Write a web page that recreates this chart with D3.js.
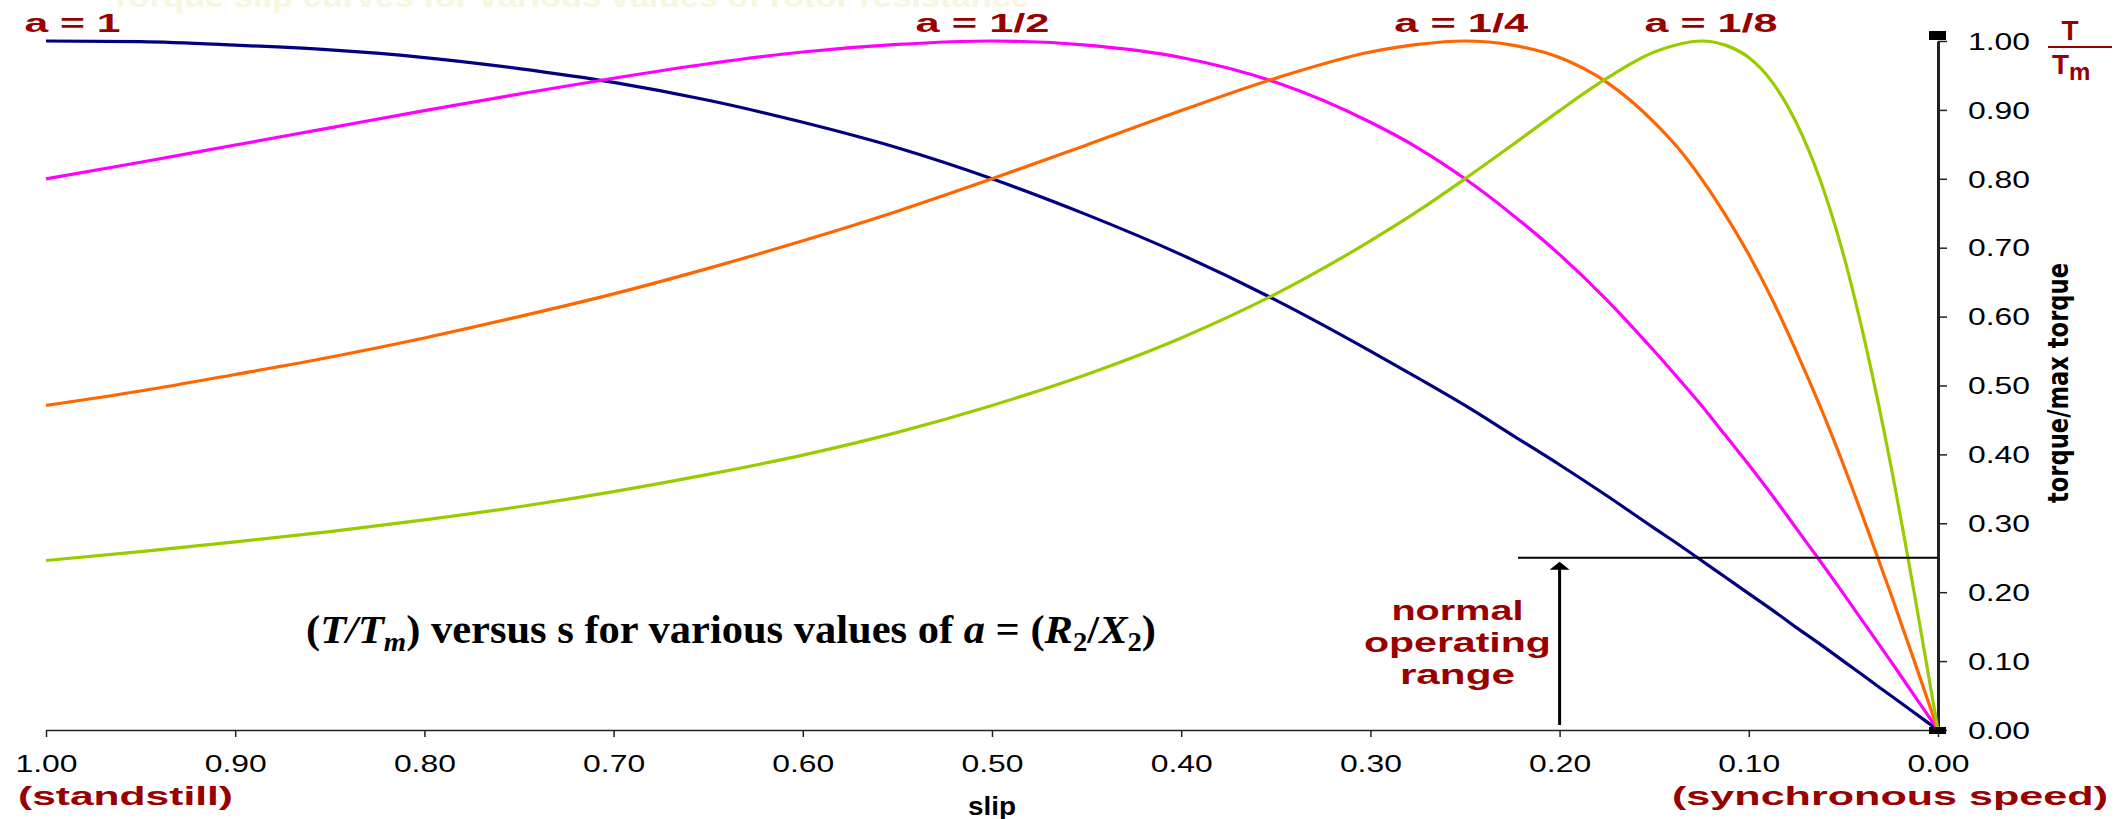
<!DOCTYPE html>
<html>
<head>
<meta charset="utf-8">
<script src="https://cdn.jsdelivr.net/npm/d3@7"></script>
<style>
  body { margin: 0; background: #fff; }
  svg { display: block; }
</style>
</head>
<body>
<svg class="chart" width="2118" height="819"></svg>
<script>
// slip values (x) and torque/max torque
var slip = [1.00, 0.95, 0.90, 0.85, 0.80, 0.75, 0.70, 0.65, 0.60, 0.55, 0.50, 0.45, 0.40, 0.35, 0.30,
    0.275, 0.25, 0.225, 0.20, 0.175, 0.15,
    0.1375, 0.125, 0.1125, 0.10, 0.0875, 0.075, 0.0625, 0.05, 0.0375, 0.025, 0.0125, 0.00];
var aOne = [1.000, 0.999, 0.994, 0.987, 0.976, 0.960, 0.940, 0.914, 0.882, 0.845, 0.800, 0.748, 0.690, 0.624, 0.550,
    0.511, 0.471, 0.428, 0.385, 0.340, 0.293,
    0.270, 0.246, 0.222, 0.198, 0.174, 0.149, 0.125, 0.100, 0.075, 0.050, 0.025, 0.000];
var aHalf = [0.800, 0.824, 0.849, 0.874, 0.899, 0.923, 0.946, 0.967, 0.984, 0.995, 1.000, 0.994, 0.976, 0.940, 0.882,
    0.845, 0.800, 0.748, 0.690, 0.624, 0.550,
    0.511, 0.471, 0.428, 0.385, 0.340, 0.293, 0.246, 0.198, 0.149, 0.100, 0.050, 0.000];
var aQuarter = [0.471, 0.492, 0.516, 0.541, 0.569, 0.600, 0.633, 0.670, 0.710, 0.753, 0.800, 0.849, 0.899, 0.946, 0.984,
    0.995, 1.000, 0.994, 0.976, 0.940, 0.882,
    0.845, 0.800, 0.748, 0.690, 0.624, 0.550, 0.471, 0.385, 0.293, 0.198, 0.100, 0.000];
var aEighth = [0.246, 0.259, 0.273, 0.288, 0.305, 0.324, 0.346, 0.371, 0.399, 0.432, 0.471, 0.516, 0.569, 0.633, 0.710,
    0.753, 0.800, 0.849, 0.899, 0.946, 0.984,
    0.995, 1.000, 0.994, 0.976, 0.940, 0.882, 0.800, 0.690, 0.550, 0.385, 0.198, 0.000];

var seriesNames = ["a = 1", "a = 1/2", "a = 1/4", "a = 1/8"];
var seriesValues = [aOne, aHalf, aQuarter, aEighth];
var seriesColors = ["#000080", "#ff00ff", "#ff6600", "#99cc00"];
var labelSlip = [0.986, 0.505, 0.252, 0.12];   // where each "a = .." label sits

var xTicks = [1.0, 0.9, 0.8, 0.7, 0.6, 0.5, 0.4, 0.3, 0.2, 0.1, 0.0];
var yTicks = [0.0, 0.1, 0.2, 0.3, 0.4, 0.5, 0.6, 0.7, 0.8, 0.9, 1.0];
var operatingTorque = 0.25;
var operatingSlip = 0.20;
var rangeWords = ["normal", "operating", "range"];

var red = "#990000";

var svg = d3.select(".chart"),
    width = +svg.attr("width"),
    height = +svg.attr("height");

var x = d3.scaleLinear().domain([1, 0]).range([46, 1938]);
var y = d3.scaleLinear().domain([0, 1]).range([730, 41]);

// faint caption at the very top, mostly cut off
svg.append("text")
    .attr("x", 110).attr("y", 7)
    .attr("textLength", 920).attr("lengthAdjust", "spacingAndGlyphs")
    .style("font-family", "Arial, 'Liberation Sans', sans-serif")
    .style("font-size", "30px").style("font-weight", "bold")
    .style("fill", "#f8f6e0")
    .text("Torque slip curves for various values of rotor resistance");

// x axis
var xAxis = svg.append("g")
    .attr("transform", "translate(0," + y(0) + ")")
    .call(d3.axisBottom(x).tickValues(xTicks).tickFormat(d3.format(".2f")).tickSize(7).tickSizeOuter(0));
xAxis.select(".domain").attr("stroke", "#222").attr("stroke-width", 1.5);
xAxis.selectAll(".tick line").attr("stroke", "#222").attr("stroke-width", 1.5);
xAxis.selectAll(".tick text")
    .attr("y", 42).attr("dy", 0)
    .attr("textLength", 62).attr("lengthAdjust", "spacingAndGlyphs")
    .style("font-family", "Arial, 'Liberation Sans', sans-serif")
    .style("font-size", "23px").style("fill", "#000");

// y axis on the right, at slip = 0
var yAxis = svg.append("g")
    .attr("transform", "translate(" + x(0) + ",0)")
    .call(d3.axisRight(y).tickValues(yTicks).tickFormat(d3.format(".2f")).tickSize(9).tickPadding(21).tickSizeOuter(0));
yAxis.select(".domain").attr("stroke", "#222").attr("stroke-width", 3);
yAxis.selectAll(".tick line").attr("stroke", "#222").attr("stroke-width", 1.5);
yAxis.selectAll(".tick text")
    .attr("dy", "0.36em")
    .attr("textLength", 62).attr("lengthAdjust", "spacingAndGlyphs")
    .style("font-family", "Arial, 'Liberation Sans', sans-serif")
    .style("font-size", "23px").style("fill", "#000");

// small end marker at the top of the axis
svg.append("rect").attr("x", x(0) - 9).attr("y", y(1) - 10).attr("width", 17).attr("height", 9).attr("fill", "#000");

// curves
var line = d3.line()
    .x((d, i) => x(slip[i]))
    .y(d => y(d))
    .curve(d3.curveMonotoneX);

svg.append("g").selectAll("path")
    .data(seriesValues)
    .enter()
    .append("path")
    .attr("d", d => line(d))
    .attr("fill", "none")
    .attr("stroke", (d, i) => seriesColors[i])
    .attr("stroke-width", 3.2);

svg.append("rect").attr("x", x(0) - 9).attr("y", y(0) - 3).attr("width", 17).attr("height", 7).attr("fill", "#000");

// a = .. labels above the peaks
var labelWidth = [96, 134, 134, 133];
svg.append("g").selectAll("text")
    .data(seriesNames)
    .enter()
    .append("text")
    .attr("x", (d, i) => x(labelSlip[i]))
    .attr("y", 32)
    .attr("text-anchor", "middle")
    .attr("textLength", (d, i) => labelWidth[i]).attr("lengthAdjust", "spacingAndGlyphs")
    .style("font-family", "Arial, 'Liberation Sans', sans-serif")
    .style("font-size", "25px").style("font-weight", "bold")
    .style("fill", red)
    .text(d => d);

// T / Tm at the top of the axis
var tm = svg.append("g").style("font-family", "Arial, 'Liberation Sans', sans-serif")
    .style("font-weight", "bold").style("fill", red);
tm.append("text").attr("x", 2070).attr("y", 40).attr("text-anchor", "middle")
    .style("font-size", "28px").text("T");
tm.append("line").attr("x1", 2048).attr("x2", 2112).attr("y1", 47).attr("y2", 47)
    .attr("stroke", red).attr("stroke-width", 2);
var tmText = tm.append("text").attr("x", 2052).attr("y", 74).style("font-size", "28px");
tmText.append("tspan").text("T");
tmText.append("tspan").attr("dy", 6).style("font-size", "24px").text("m");

// axis title, rotated
svg.append("text")
    .attr("transform", "translate(2068,383) rotate(-90)")
    .attr("text-anchor", "middle")
    .attr("textLength", 240).attr("lengthAdjust", "spacingAndGlyphs")
    .style("font-family", "'Liberation Sans Narrow', 'DejaVu Sans Condensed', Arial, sans-serif")
    .style("font-size", "29px").style("font-weight", "bold")
    .style("fill", "#000")
    .text("torque/max torque");

// x axis captions
var cap = svg.append("g").style("font-family", "Arial, 'Liberation Sans', sans-serif").style("font-weight", "bold");
cap.append("text").attr("x", 18).attr("y", 805)
    .attr("textLength", 215).attr("lengthAdjust", "spacingAndGlyphs")
    .style("font-size", "26px").style("fill", red).text("(standstill)");
cap.append("text").attr("x", 2108).attr("y", 805).attr("text-anchor", "end")
    .attr("textLength", 436).attr("lengthAdjust", "spacingAndGlyphs")
    .style("font-size", "26px").style("fill", red).text("(synchronous speed)");
cap.append("text").attr("x", x(0.5)).attr("y", 815).attr("text-anchor", "middle")
    .attr("textLength", 48).attr("lengthAdjust", "spacingAndGlyphs")
    .style("font-size", "25px").style("fill", "#000").text("slip");

// normal operating range marker
svg.append("line")
    .attr("x1", x(0.222)).attr("x2", x(0))
    .attr("y1", y(operatingTorque)).attr("y2", y(operatingTorque))
    .attr("stroke", "#000").attr("stroke-width", 2);
svg.append("line")
    .attr("x1", x(operatingSlip)).attr("x2", x(operatingSlip))
    .attr("y1", y(0) - 5).attr("y2", y(operatingTorque) + 8)
    .attr("stroke", "#000").attr("stroke-width", 3);
svg.append("path")
    .attr("d", "M" + x(operatingSlip) + "," + (y(operatingTorque) + 4) +
        "l-10,8h20z")
    .attr("fill", "#000");

var rangeWidth = [132, 187, 115];
svg.append("g").selectAll("text")
    .data(rangeWords)
    .enter()
    .append("text")
    .attr("x", x(0.254))
    .attr("y", (d, i) => 620 + i * 32)
    .attr("text-anchor", "middle")
    .attr("textLength", (d, i) => rangeWidth[i]).attr("lengthAdjust", "spacingAndGlyphs")
    .style("font-family", "Arial, 'Liberation Sans', sans-serif")
    .style("font-size", "27px").style("font-weight", "bold")
    .style("fill", red)
    .text(d => d);

// chart caption
var title = svg.append("text")
    .attr("x", 306).attr("y", 643)
    .attr("textLength", 850).attr("lengthAdjust", "spacingAndGlyphs")
    .style("font-family", "'Liberation Serif', 'Times New Roman', serif")
    .style("font-size", "40px").style("font-weight", "bold")
    .style("fill", "#000");
title.append("tspan").text("(");
title.append("tspan").style("font-style", "italic").text("T/T");
title.append("tspan").style("font-style", "italic").style("font-size", "27px").attr("dy", 8).text("m");
title.append("tspan").attr("dy", -8).text(") versus s for various values of ");
title.append("tspan").style("font-style", "italic").text("a");
title.append("tspan").text(" = (");
title.append("tspan").style("font-style", "italic").text("R");
title.append("tspan").style("font-size", "27px").attr("dy", 8).text("2");
title.append("tspan").attr("dy", -8).text("/");
title.append("tspan").style("font-style", "italic").text("X");
title.append("tspan").style("font-size", "27px").attr("dy", 8).text("2");
title.append("tspan").attr("dy", -8).text(")");
</script>
</body>
</html>
